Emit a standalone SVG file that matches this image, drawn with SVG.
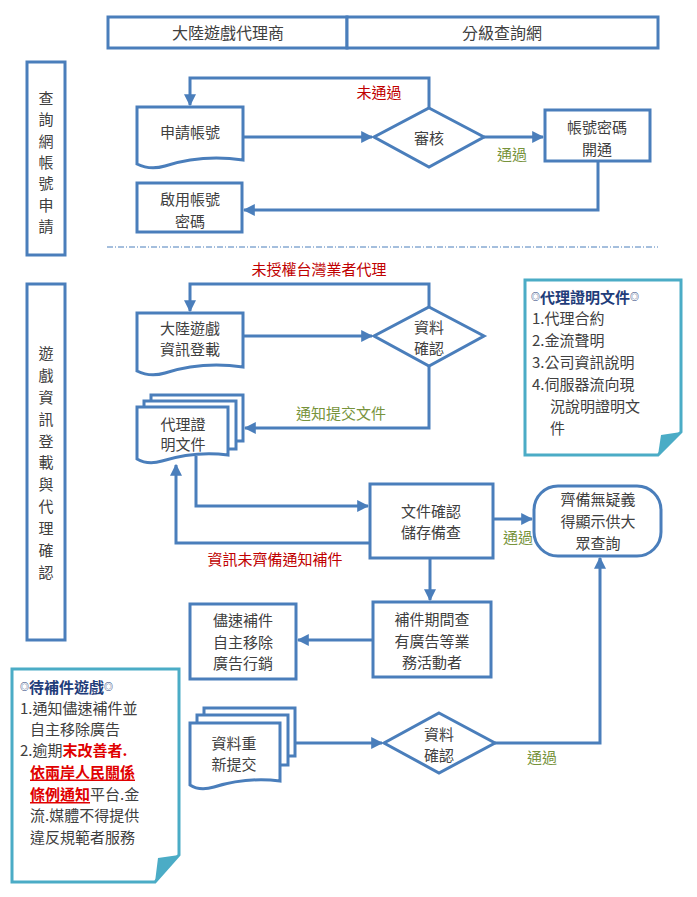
<svg xmlns="http://www.w3.org/2000/svg" width="697" height="897" viewBox="0 0 697 897">
<defs>
<marker id="ah" viewBox="0 0 10 10" refX="9" refY="5" markerWidth="4" markerHeight="4" orient="auto"><path d="M0,0 L10,5 L0,10 z" fill="#4a7ebb"/></marker>
<style>
.b{fill:#fff;stroke:#4a7ebb;stroke-width:3}
.n{fill:#fff;stroke:#4bacc6;stroke-width:3}
.l{fill:none;stroke:#4a7ebb;stroke-width:3;marker-end:url(#ah)}
text{font-family:"Noto Sans CJK TC","Noto Sans CJK SC",sans-serif;font-size:15px;fill:#404040;text-anchor:middle;dominant-baseline:central}
.h{font-size:16px}
.r{fill:#c00000}
.g{fill:#77933c}
.t{font-size:15px;fill:#1f3d7a;font-weight:bold;text-anchor:start}
.s{text-anchor:start;font-size:15px}
.rb{fill:#e00000;font-weight:bold}
</style>
</defs>
<g id="header">
<rect class="b" x="108" y="17" width="239" height="31"/>
<rect class="b" x="347" y="17" width="311" height="31"/>
<text class="h" x="228" y="32">大陸遊戲代理商</text>
<text class="h" x="502" y="32">分級查詢網</text>
</g>
<g id="lane1">
<rect class="b" x="27" y="62" width="38" height="193"/>
<text x="46" y="97">查</text><text x="46" y="118">詢</text><text x="46" y="140">網</text><text x="46" y="161">帳</text><text x="46" y="182">號</text><text x="46" y="204">申</text><text x="46" y="225">請</text>
</g>
<g id="lane2">
<rect class="b" x="27" y="284" width="38" height="356"/>
<text x="46" y="352">遊</text><text x="46" y="374">戲</text><text x="46" y="396">資</text><text x="46" y="418">訊</text><text x="46" y="440">登</text><text x="46" y="461">載</text><text x="46" y="483">與</text><text x="46" y="505">代</text><text x="46" y="527">理</text><text x="46" y="549">確</text><text x="46" y="571">認</text>
</g>
<line x1="107" y1="247" x2="658" y2="247" stroke="#4a7ebb" stroke-width="1" stroke-dasharray="6,2,1,2"/>
<g id="connectors">
<path class="l" d="M243,137 H372"/>
<path class="l" d="M484,137 H543"/>
<path class="l" d="M429,108 V78 H190 V105"/>
<path class="l" d="M598,161 V210 H244"/>
<path class="l" d="M243,336 H372"/>
<path class="l" d="M429,307 V284 H190 V311"/>
<path class="l" d="M429,366 V428 H245"/>
<path class="l" d="M196,456 V506 H368"/>
<path class="l" d="M370,543 H176 V465"/>
<path class="l" d="M493,519 H532"/>
<path class="l" d="M430,558 V600"/>
<path class="l" d="M373,640 H298"/>
<path class="l" d="M295,743 H382"/>
<path class="l" d="M495,743 H600 V558"/>
</g>
<g id="labels">
<text class="r" x="379" y="91">未通過</text>
<text class="g" x="512" y="153">通過</text>
<text class="r" x="319" y="268">未授權台灣業者代理</text>
<text class="g" x="341" y="412">通知提交文件</text>
<text class="r" x="275" y="558">資訊未齊備通知補件</text>
<text class="g" x="518" y="536">通過</text>
<text class="g" x="542" y="756">通過</text>
</g>
<g id="n1">
<path class="b" d="M137,107 H243 V160 C215,156 190,158 165,166 C155,169 145,168 137,164 Z"/>
<text x="190" y="131">申請帳號</text>
</g>
<g id="n2">
<polygon class="b" points="429,108 484,137 429,167 374,137"/>
<text x="429" y="137">審核</text>
</g>
<g id="n3">
<rect class="b" x="545" y="110" width="105" height="51"/>
<text x="597" y="126">帳號密碼</text><text x="597" y="148">開通</text>
</g>
<g id="n4">
<rect class="b" x="137" y="183" width="105" height="49"/>
<text x="190" y="198">啟用帳號</text><text x="190" y="220">密碼</text>
</g>
<g id="n5">
<path class="b" d="M137,313 H243 V367 C215,363 190,365 165,373 C155,376 145,375 137,371 Z"/>
<text x="190" y="327">大陸遊戲</text><text x="190" y="348">資訊登載</text>
</g>
<g id="n6">
<polygon class="b" points="429,307 484,336 429,366 374,336"/>
<text x="429" y="326">資料</text><text x="429" y="347">確認</text>
</g>
<g id="n7">
<rect class="b" x="151" y="395" width="92" height="46"/>
<rect class="b" x="144" y="401" width="92" height="48"/>
<path class="b" d="M137,407 H228 V455 C205,452 185,454 162,461 C152,464 144,463 137,459 Z"/>
<text x="183" y="423">代理證</text><text x="183" y="443">明文件</text>
</g>
<g id="n8">
<rect class="b" x="370" y="484" width="123" height="74"/>
<text x="431" y="510">文件確認</text><text x="431" y="531">儲存備查</text>
</g>
<g id="n9">
<rect class="b" x="534" y="486" width="127" height="70" rx="24"/>
<text x="598" y="498">齊備無疑義</text><text x="598" y="520">得顯示供大</text><text x="598" y="542">眾查詢</text>
</g>
<g id="n10">
<rect class="b" x="373" y="602" width="118" height="75"/>
<text x="432" y="618">補件期間查</text><text x="432" y="640">有廣告等業</text><text x="432" y="661">務活動者</text>
</g>
<g id="n11">
<rect class="b" x="190" y="604" width="106" height="75"/>
<text x="243" y="619">儘速補件</text><text x="243" y="641">自主移除</text><text x="243" y="662">廣告行銷</text>
</g>
<g id="n12">
<rect class="b" x="204" y="708" width="91" height="48"/>
<rect class="b" x="197" y="715" width="91" height="50"/>
<path class="b" d="M190,723 H280 V781 C257,778 237,780 214,787 C204,790 196,789 190,785 Z"/>
<text x="234" y="742">資料重</text><text x="234" y="763">新提交</text>
</g>
<g id="n13">
<polygon class="b" points="439,713 495,743 439,773 384,743"/>
<text x="439" y="733">資料</text><text x="439" y="754">確認</text>
</g>
<g id="note1">
<path class="n" d="M525,280 H681 V432 L658,455 H525 Z"/>
<polygon points="681,432 658,455 661,435" fill="#4bacc6"/>
<text class="t" x="531" y="296"><tspan font-size="9">◎</tspan>代理證明文件<tspan font-size="9">◎</tspan></text>
<text class="s" x="532" y="317">1.代理合約</text>
<text class="s" x="532" y="339">2.金流聲明</text>
<text class="s" x="532" y="361">3.公司資訊說明</text>
<text class="s" x="532" y="383">4.伺服器流向現</text>
<text class="s" x="550" y="405">況說明證明文</text>
<text class="s" x="550" y="427">件</text>
</g>
<g id="note2">
<path class="n" d="M12,669 H179 V855 L155,882 H12 Z"/>
<polygon points="179,855 155,882 158,858" fill="#4bacc6"/>
<text class="t" x="20" y="686"><tspan font-size="9">◎</tspan>待補件遊戲<tspan font-size="9">◎</tspan></text>
<text class="s" x="20" y="707">1.通知儘速補件並</text>
<text class="s" x="30" y="728">自主移除廣告</text>
<text class="s" x="20" y="749">2.逾期<tspan class="rb">末改善者.</tspan></text>
<text class="s rb" x="30" y="771" text-decoration="underline">依兩岸人民關係</text>
<text class="s" x="30" y="793"><tspan class="rb" text-decoration="underline">條例通知</tspan>平台.金</text>
<text class="s" x="30" y="814">流.媒體不得提供</text>
<text class="s" x="30" y="836">違反規範者服務</text>
</g>
</svg>
